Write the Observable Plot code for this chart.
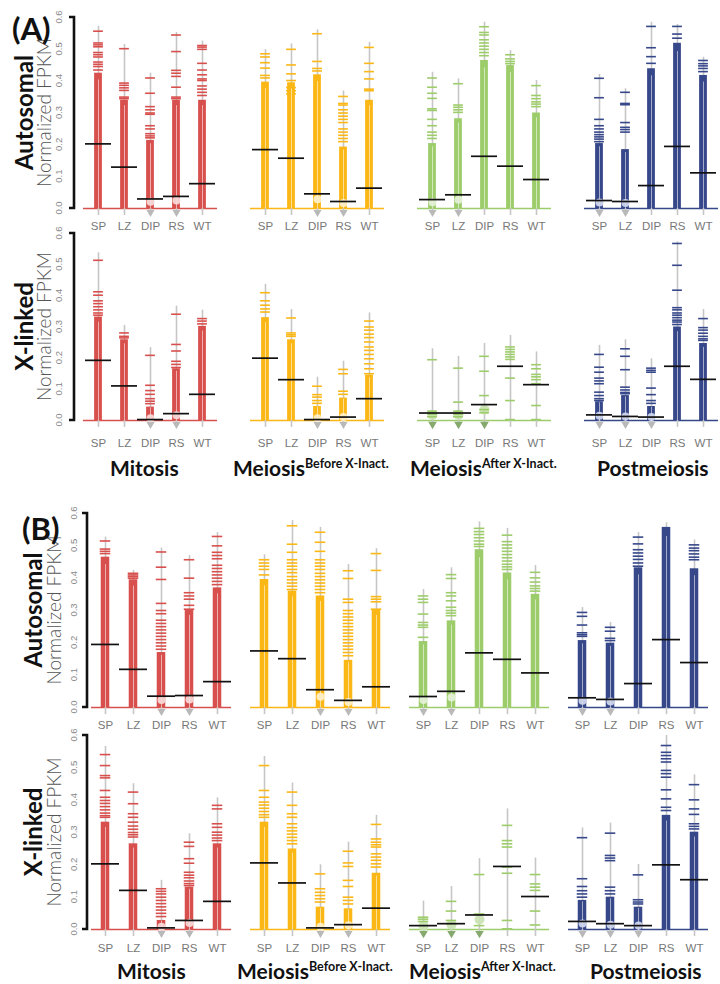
<!DOCTYPE html>
<html><head><meta charset="utf-8">
<script src="https://cdn.jsdelivr.net/npm/d3@7"></script>
<script src="https://cdn.jsdelivr.net/npm/@observablehq/plot@0.6"></script>
<style>
body{margin:0;background:#fff;}
#wrap{position:relative;width:720px;height:984px;overflow:hidden;}
#wrap > svg{position:absolute;left:0;}
</style></head>
<body><div id="wrap"></div>
<script>
// ---------- data ----------
const categories = ["SP","LZ","DIP","RS","WT"];
const phases = ["Mitosis","MeiosisBefore","MeiosisAfter","Postmeiosis"];
const phaseColors = ["#d8504d","#fbb716","#9dcc6a","#36478a"];
const phaseTints = ["#f7dede","#fff2d0","#e6f2da","#d6dcef"];
const yTickValues = [0,0.1,0.2,0.3,0.4,0.5,0.6];
const yTickLabels = ["0.0","0.1","0.2","0.3","0.4","0.5","0.6"];
const rowNames = ["Autosomal","X-linked","Autosomal","X-linked"];
const yLabel = "Normalized FPKM";
const panelLabels = ["(A)","(B)"];

// Panel A, autosomal
const A_auto_median = [[0.203,0.130,0.030,0.038,0.078],[0.185,0.158,0.046,0.022,0.064],[0.028,0.043,0.164,0.133,0.091],[0.025,0.022,0.072,0.195,0.112]];
const A_auto_max = [[0.572,0.515,0.425,0.553,0.526],[0.499,0.517,0.561,0.369,0.522],[0.428,0.407,0.585,0.496,0.402],[0.421,0.376,0.585,0.578,0.475]];
const A_auto_dense = [[0.425,0.34,0.214,0.34,0.34],[0.397,0.395,0.42,0.193,0.34],[0.204,0.282,0.465,0.449,0.30],[0.204,0.185,0.439,0.519,0.418]];
const A_auto_points = [
 [[0.557,0.52,0.514,0.508,0.49,0.483,0.476,0.46,0.453,0.446,0.435],[0.502,0.394,0.387,0.379,0.371,0.35,0.345],[0.41,0.362,0.32,0.31,0.3,0.296,0.26,0.25,0.235,0.228,0.222],[0.545,0.493,0.434,0.425,0.415,0.381,0.35,0.345],[0.512,0.507,0.5,0.456,0.435,0.42,0.407,0.402,0.385,0.375,0.365,0.355]],
 [[0.486,0.476,0.458,0.441,0.418,0.41],[0.5,0.451,0.423,0.402,0.38,0.37,0.36],[0.549,0.462,0.44,0.432],[0.352,0.33,0.325,0.31,0.3,0.29,0.28,0.27,0.25,0.24,0.23,0.22,0.21],[0.506,0.456,0.43,0.407,0.375,0.37]],
 [[0.41,0.381,0.362,0.346,0.313,0.308,0.28,0.26,0.24,0.23,0.22],[0.392,0.325,0.318,0.31,0.302],[0.571,0.553,0.545,0.53,0.52,0.51,0.5,0.49,0.48],[0.483,0.47,0.462,0.455],[0.386,0.355,0.345,0.335,0.328,0.32]],
 [[0.409,0.348,0.28,0.26,0.25,0.24,0.232,0.225,0.218,0.21],[0.365,0.33,0.326,0.27,0.255,0.248,0.24],[0.572,0.505,0.477,0.456],[0.572,0.548,0.535],[0.465,0.455,0.448,0.44,0.43]]
];
// Panel A, X-linked
const A_x_median = [[0.193,0.111,0.003,0.022,0.084],[0.2,0.131,0.003,0.011,0.07],[0.024,0.024,0.051,0.174,0.115],[0.018,0.013,0.011,0.174,0.132]];
const A_x_max = [[0.538,0.305,0.234,0.367,0.354],[0.437,0.356,0.139,0.19,0.345],[0.23,0.206,0.247,0.273,0.22],[0.241,0.259,0.198,0.573,0.356]];
const A_x_dense = [[0.332,0.259,0.043,0.166,0.302],[0.33,0.259,0.045,0.072,0.145],[0,0,0,0,0],[0.06,0.08,0.045,0.3,0.247]];
const A_x_points = [
 [[0.514,0.413,0.402,0.384,0.375,0.365,0.355,0.345,0.338],[0.281,0.27,0.265],[0.209,0.113,0.096,0.084,0.07,0.062,0.054],[0.341,0.244,0.223,0.19,0.18,0.17],[0.327,0.319,0.31]],
 [[0.41,0.384,0.37,0.358,0.348],[0.329,0.281,0.275,0.27],[0.11,0.083,0.075,0.064,0.055],[0.164,0.15,0.094,0.084],[0.319,0.3,0.29,0.277,0.266,0.252,0.236,0.225,0.212,0.198,0.182,0.166,0.15]],
 [[0.195,0.03,0.02,0.012],[0.168,0.059,0.03,0.02,0.012],[0.206,0.158,0.08,0.035,0.025],[0.236,0.228,0.22,0.212,0.204,0.196,0.136,0.064,0.003],[0.179,0.166,0.148,0.14,0.131,0.118,0.048,0.003]],
 [[0.212,0.171,0.155,0.136,0.127,0.118,0.091,0.08,0.07,0.064],[0.23,0.206,0.163,0.107,0.098,0.09,0.086],[0.168,0.161,0.155,0.104,0.083,0.064,0.055],[0.568,0.498,0.418,0.362,0.355,0.345,0.338,0.33,0.322,0.316,0.308],[0.327,0.298,0.29,0.28,0.27,0.262,0.257]]
];
// Panel B, autosomal
const B_auto_median = [[0.195,0.118,0.035,0.037,0.08],[0.175,0.151,0.055,0.022,0.064],[0.034,0.05,0.169,0.149,0.107],[0.03,0.025,0.074,0.21,0.139]];
const B_auto_max = [[0.527,0.424,0.493,0.47,0.541],[0.472,0.578,0.557,0.442,0.491],[0.365,0.432,0.574,0.554,0.439],[0.309,0.263,0.541,0.571,0.518]];
const B_auto_dense = [[0.465,0.395,0.17,0.3,0.37],[0.396,0.36,0.345,0.146,0.3],[0.204,0.268,0.488,0.416,0.35],[0.207,0.199,0.432,0.557,0.429]];
const B_auto_points = [
 [[0.515,0.49,0.483,0.476],[0.415,0.41,0.405,0.4],[0.481,0.434,0.396,0.322,0.3,0.29,0.27,0.26,0.25,0.24,0.23,0.22,0.21,0.2,0.19,0.18],[0.457,0.4,0.355,0.345,0.335,0.316,0.304],[0.529,0.5,0.48,0.47,0.46,0.44,0.43,0.42,0.41,0.4,0.39,0.38]],
 [[0.457,0.447,0.437,0.427,0.41],[0.562,0.505,0.48,0.457,0.447,0.437,0.427,0.417,0.405,0.395,0.385,0.375,0.365],[0.542,0.511,0.483,0.457,0.447,0.437,0.427,0.415,0.405,0.395,0.385,0.375,0.365,0.355],[0.423,0.399,0.335,0.325,0.3,0.29,0.28,0.27,0.26,0.25,0.24,0.23,0.22,0.21,0.2,0.19,0.18,0.17,0.16],[0.476,0.424,0.343,0.335,0.327,0.304]],
 [[0.345,0.335,0.325,0.289,0.263,0.255,0.248,0.217],[0.411,0.399,0.355,0.345,0.33,0.31,0.3,0.292,0.284],[0.554,0.544,0.535,0.525,0.515,0.505,0.498],[0.533,0.513,0.503,0.493,0.483,0.473,0.463,0.453,0.443,0.435,0.427],[0.418,0.401,0.388,0.376,0.368,0.36]],
 [[0.294,0.282,0.255,0.231,0.225,0.22],[0.248,0.236,0.214,0.207],[0.527,0.506,0.488,0.478,0.468,0.458,0.447,0.437],[],[0.503,0.493,0.485,0.475,0.465,0.457]]
];
// Panel B, X-linked
const B_x_median = [[0.203,0.121,0.005,0.028,0.087],[0.206,0.144,0.005,0.015,0.066],[0.012,0.018,0.045,0.195,0.102],[0.025,0.018,0.012,0.2,0.154]];
const B_x_max = [[0.566,0.451,0.152,0.296,0.407],[0.535,0.453,0.2,0.27,0.353],[0.088,0.133,0.219,0.373,0.221],[0.314,0.329,0.201,0.6,0.478]];
const B_x_dense = [[0.332,0.265,0.028,0.131,0.265],[0.332,0.249,0.069,0.064,0.174],[0,0,0,0,0],[0.09,0.1,0.069,0.353,0.301]];
const B_x_points = [
 [[0.541,0.507,0.476,0.469,0.43,0.409,0.399,0.39,0.38,0.37,0.36,0.352,0.347],[0.425,0.389,0.358,0.347,0.332,0.32,0.31,0.3,0.293,0.286],[0.126,0.118,0.11,0.1,0.09,0.08,0.07,0.06,0.05,0.04],[0.27,0.257,0.219,0.205,0.177,0.168,0.16,0.15,0.142,0.136],[0.384,0.373,0.327,0.316,0.301,0.292,0.283,0.275]],
 [[0.507,0.43,0.409,0.394,0.385,0.375,0.365,0.355,0.347],[0.425,0.384,0.358,0.347,0.327,0.315,0.305,0.295,0.285,0.275,0.265],[0.172,0.126,0.115,0.105,0.095,0.085],[0.242,0.206,0.195,0.152,0.133,0.1,0.09,0.079],[0.325,0.28,0.27,0.262,0.255,0.234,0.224,0.214,0.203,0.193]],
 [[0.038,0.032,0.025],[0.087,0.057,0.028,0.018],[0.17,0.048,0.012],[0.322,0.275,0.265,0.255,0.193,0.174,0.028,0.002],[0.17,0.141,0.131,0.121,0.057,0.014]],
 [[0.284,0.157,0.133,0.12,0.11,0.1],[0.298,0.229,0.221,0.213,0.131,0.12,0.11],[0.169,0.092,0.085,0.079],[0.569,0.548,0.538,0.528,0.518,0.492,0.482,0.471,0.432,0.404,0.378,0.368],[0.448,0.401,0.373,0.356,0.327,0.319,0.311]]
];

// ---------- layout of the four rows ----------
const rowsCfg = [
  {name: rowNames[0], med: A_auto_median, max: A_auto_max, dense: A_auto_dense, pts: A_auto_points,
   top: 0, y6: 17, y0: 208, left: 83, right: 717.75, pi: 0.2, pad: 4, axisX: 74, tickX: 62, labX: 51, nameX: 33},
  {name: rowNames[1], med: A_x_median, max: A_x_max, dense: A_x_dense, pts: A_x_points,
   top: 220, y6: 233, y0: 420, left: 83, right: 717.75, pi: 0.2, pad: 9, axisX: 74, tickX: 62, labX: 51, nameX: 33},
  {name: rowNames[2], med: B_auto_median, max: B_auto_max, dense: B_auto_dense, pts: B_auto_points,
   top: 490, y6: 513, y0: 707, left: 91, right: 708, pi: 0.121, pad: 4, axisX: 87, tickX: 77, labX: 61, nameX: 42},
  {name: rowNames[3], med: B_x_median, max: B_x_max, dense: B_x_dense, pts: B_x_points,
   top: 720, y6: 735, y0: 929, left: 91, right: 708, pi: 0.121, pad: 5, axisX: 87, tickX: 77, labX: 61, nameX: 42}
];
const H = 240, YMIN = -0.03, TAIL = -0.022;
const wrap = document.getElementById("wrap");

rowsCfg.forEach(cfg => {
  const beans = [], pts = [];
  phases.forEach((p, i) => categories.forEach((c, j) => {
    beans.push({phase: p, cat: c, color: phaseColors[i], tint: phaseTints[i], med: cfg.med[i][j], max: cfg.max[i][j], dense: cfg.dense[i][j]});
    cfg.pts[i][j].forEach(v => pts.push({phase: p, cat: c, color: phaseColors[i], v}));
  }));
  const unit = (cfg.y0 - cfg.y6) / 0.6;
  const mt = cfg.y6 - cfg.top;
  const plotBottom = cfg.y0 + (-YMIN) * unit - cfg.top;
  const band = (cfg.right - cfg.left) / (4 - cfg.pi) * (1 - cfg.pi) / 5;
  const barInset = (band - 8.5) / 2, tickInset = (band - 10.5) / 2;
  const phaseRows = phases.map((p, i) => ({phase: p, color: phaseColors[i]}));
  const solid = beans.filter(d => d.dense > 0);
  const lowMass = beans.filter(d => d.med < 0.06);
  const sparseLow = lowMass.filter(d => d.dense === 0);
  const solidLow = lowMass.filter(d => d.dense > 0);

  const chart = Plot.plot({
    width: 720, height: H,
    marginLeft: cfg.left, marginRight: 720 - cfg.right, marginTop: mt, marginBottom: H - plotBottom,
    style: {background: "transparent", overflow: "visible", fontFamily: "'Liberation Sans', Arial, sans-serif"},
    fx: {domain: phases, paddingInner: cfg.pi, paddingOuter: 0, axis: null, label: null},
    x: {domain: categories, padding: 0, label: null},
    y: {domain: [YMIN, 0.6], axis: null},
    color: {type: "identity"},
    marks: [
      Plot.ruleY(phaseRows, {fx: "phase", y: () => 0, stroke: "color", strokeWidth: 1.6}),
      Plot.ruleX(beans, {fx: "phase", x: "cat", y1: () => TAIL, y2: "max", stroke: "#c6c6c6", strokeWidth: 1.6}),
      Plot.dot(solidLow, {fx: "phase", x: "cat", y: () => -0.012, symbol: "triangle", rotate: 180, r: 3, fill: "#b9b9b9"}),
      Plot.dot(sparseLow, {fx: "phase", x: "cat", y: () => -0.012, symbol: "triangle", rotate: 180, r: 3.2, fill: "#86a96e"}),
      Plot.dot(sparseLow, {fx: "phase", x: "cat", y: d => d.med * 0.6 + 0.004, r: 5, fill: "#c9e2b2", fillOpacity: 0.9}),
      Plot.barY(solid, {fx: "phase", x: "cat", y1: () => 0, y2: "dense", fill: "color", insetLeft: barInset, insetRight: barInset}),
      Plot.tickY(pts, {fx: "phase", x: "cat", y: "v", stroke: "color", strokeWidth: 1.6, inset: tickInset}),
      Plot.ruleX(solid, {fx: "phase", x: "cat", y1: () => 0, y2: d => d.dense * 0.95, stroke: "white", strokeOpacity: 0.55, strokeWidth: 1}),
      Plot.dot(solidLow, {fx: "phase", x: "cat", y: d => d.med * 0.5 + 0.006, r: 4, fill: "tint", fillOpacity: 0.9}),
      Plot.tickY(beans, {fx: "phase", x: "cat", y: "med", stroke: "#111", strokeWidth: 1.7}),
      Plot.axisX({tickSize: 0, tickPadding: cfg.pad, fontSize: 11.5, color: "#777", label: null})
    ]
  });
  chart.style.top = cfg.top + "px";
  const svg = d3.select(chart);
  const y = chart.scale("y");
  const ya = y.apply(0), yb = y.apply(0.6);
  svg.append("path")
    .attr("d", `M${cfg.axisX - 5},${yb}H${cfg.axisX}V${ya}H${cfg.axisX - 5}`)
    .attr("fill", "none").attr("stroke", "#111").attr("stroke-width", 2.6);
  yTickValues.forEach((v, k) => {
    svg.append("text").text(yTickLabels[k])
      .attr("transform", `translate(${cfg.tickX},${y.apply(v)}) rotate(-90)`)
      .attr("text-anchor", "middle").attr("font-size", 9.5).attr("fill", "#888")
      .attr("font-family", "'Liberation Sans', Arial, sans-serif");
  });
  const mid = (ya + yb) / 2;
  svg.append("text").text(yLabel)
    .attr("transform", `translate(${cfg.labX},${mid}) rotate(-90)`)
    .attr("text-anchor", "middle").attr("font-size", 19).attr("font-weight", 300).attr("fill", "#555")
    .attr("font-family", "Lato, sans-serif");
  svg.append("text").text(cfg.name)
    .attr("transform", `translate(${cfg.nameX},${mid}) rotate(-90)`)
    .attr("text-anchor", "middle").attr("font-size", 24).attr("font-weight", 700).attr("fill", "#111")
    .attr("font-family", "Lato, sans-serif");
  wrap.appendChild(chart);
});

// ---------- panel letters and stage titles ----------
const titleMain = ["Mitosis","Meiosis","Meiosis","Postmeiosis"];
const titleSup = ["","Before X-Inact.","After X-Inact.",""];
const titleRows = [{y: 476, xs: [110, 233, 410, 597]}, {y: 979, xs: [117, 237, 409, 590]}];
const panelPos = [{x: 12, y: 40}, {x: 22, y: 540}];
const over = d3.create("svg").attr("width", 720).attr("height", 984)
  .style("position", "absolute").style("top", "0px").style("left", "0px")
  .attr("font-family", "Lato, sans-serif");
panelLabels.forEach((t, k) => over.append("text").text(t).attr("x", panelPos[k].x).attr("y", panelPos[k].y)
  .attr("font-size", 31).attr("font-weight", 700).attr("fill", "#111"));
titleRows.forEach(r => titleMain.forEach((t, i) => {
  const tx = over.append("text").attr("x", r.xs[i]).attr("y", r.y).attr("fill", "#111").attr("font-weight", 700);
  tx.append("tspan").text(t).attr("font-size", 21);
  if (titleSup[i]) tx.append("tspan").text(titleSup[i]).attr("font-size", 12.5).attr("dy", -8);
}));
wrap.appendChild(over.node());
</script>
</body></html>
